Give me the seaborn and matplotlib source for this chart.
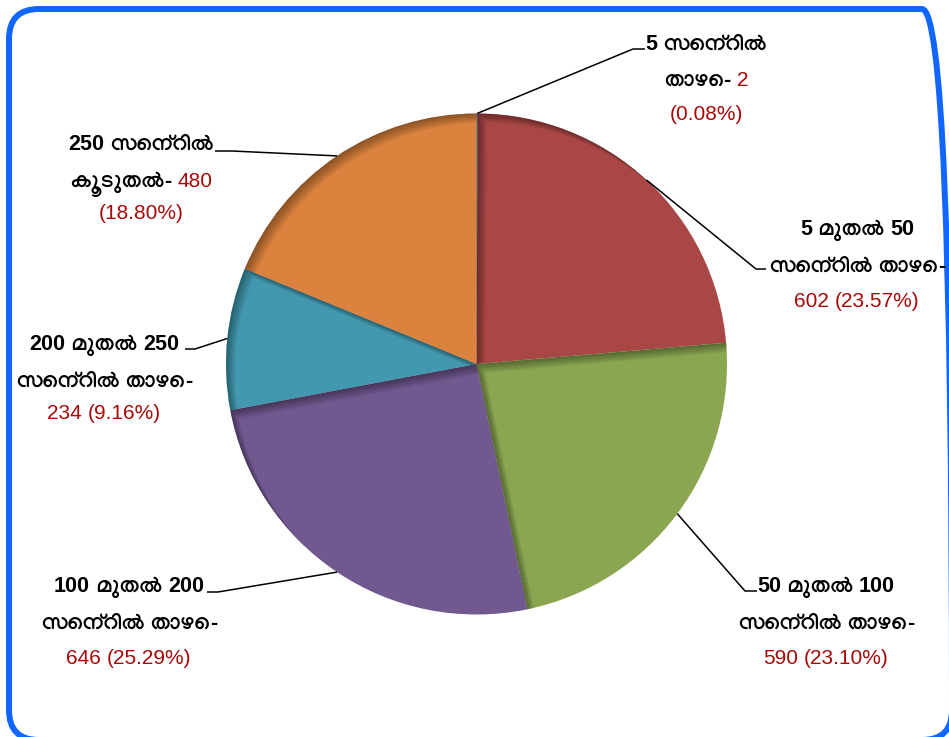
import matplotlib
matplotlib.use("Agg")
import numpy as np
import pandas as pd
import seaborn as sns
import matplotlib.pyplot as plt
from matplotlib.patches import FancyBboxPatch, PathPatch
from matplotlib.path import Path
from matplotlib.font_manager import FontProperties

# ---------------- data ----------------
categories = [
    "5 സെന്റിൽ താഴെ",
    "5 മുതൽ 50 സെന്റിൽ താഴെ",
    "50 മുതൽ 100 സെന്റിൽ താഴെ",
    "100 മുതൽ 200 സെന്റിൽ താഴെ",
    "200 മുതൽ 250 സെന്റിൽ താഴെ",
    "250 സെന്റിൽ കൂടുതൽ",
]
values = [2, 602, 590, 646, 234, 480]
pct_labels = ["0.08%", "23.57%", "23.10%", "25.29%", "9.16%", "18.80%"]
slice_colors = ["#4F81BD", "#A84745", "#8AA651", "#71588F", "#4298AF", "#DA823E"]

# label layout (positions only)
break_words = [2, 3, 3, 3, 3, 2]
value_on_line2 = [True, False, False, False, False, True]
label_x = [706, 857, 826, 129, 104, 141]
label_ys = [[43, 79, 113], [228, 265, 300], [585, 622, 657],
            [585, 622, 657], [343, 380, 412], [143, 180, 212]]
elbows = [[(633, 49), (645, 49)], [(756, 269), (766, 269)], [(745, 591), (757, 591)],
          [(218, 592), (207, 592)], [(195, 349), (185, 349)], [(232, 151), (215, 151)]]

df = pd.DataFrame({"category": categories, "value": values, "pct": pct_labels})

sns.set_theme(style="white")
palette = sns.color_palette(slice_colors)
plt.rcParams["font.family"] = ["Manjari", "Liberation Sans", "DejaVu Sans"]

W, H = 949, 737
fig = plt.figure(figsize=(W / 100, H / 100), dpi=100)
fig.patch.set_facecolor("white")
ax = fig.add_axes([0, 0, 1, 1])

cx, cy, R = 476.5, H - 364, 250.5
wedges, _ = ax.pie(df["value"], colors=palette, startangle=90, counterclock=False,
                   center=(cx, cy), radius=R, frame=True,
                   wedgeprops=dict(linewidth=0, antialiased=True))
ax.set_xlim(0, W)
ax.set_ylim(0, H)
ax.axis("off")


def signed_area(v):
    x, y = v[:, 0], v[:, 1]
    return 0.5 * np.sum(x * np.roll(y, -1) - np.roll(x, -1) * y)


# inner shadow on the upper-left edges of each slice
rect = np.array([[-100, -100], [W + 100, -100], [W + 100, H + 100], [-100, H + 100]], float)
for w in wedges:
    polys = w.get_path().to_polygons()
    if not polys:
        continue
    poly = polys[0]
    if signed_area(poly) > 0:   # rect is CCW, make hole CW
        poly = poly[::-1]
    for k in range(1, 11):
        d = k * 0.9
        hole = poly + np.array([d, -d])
        verts = np.vstack([rect, rect[:1], hole, hole[:1]])
        codes = ([Path.MOVETO] + [Path.LINETO] * 3 + [Path.CLOSEPOLY]
                 + [Path.MOVETO] + [Path.LINETO] * (len(hole) - 1) + [Path.CLOSEPOLY])
        sp = PathPatch(Path(verts, codes), facecolor="black", edgecolor="none",
                       alpha=0.04, zorder=w.get_zorder() + 0.1)
        sp.set_clip_path(w)
        ax.add_patch(sp)

# border
border = FancyBboxPatch((9, H - 740), 943, 731, boxstyle="round,pad=0,rounding_size=30",
                        fill=False, edgecolor="#1166FF", lw=4.3, zorder=10,
                        clip_on=False)
ax.add_patch(border)

# ---------------- labels ----------------
renderer = fig.canvas.get_renderer()
fp_ml = FontProperties(family="Manjari", weight="bold", size=16)
fp_lat_b = FontProperties(family="Liberation Sans", weight="bold", size=15.5)
fp_lat_r = FontProperties(family="Liberation Sans", weight="normal", size=15)
BLACK = "#000000"
RED = "#A80808"
SPACE_W = 6.0


def split_runs(s):
    runs = []
    for ch in s:
        o = ord(ch)
        if ch == " ":
            kind = "sp"
        elif 0x0D00 <= o <= 0x0D7F or o in (0x200C, 0x200D):
            kind = "ml"
        else:
            kind = "lat"
        if runs and runs[-1][1] == kind and kind != "sp":
            runs[-1][0] += ch
        else:
            runs.append([ch, kind])
    return runs


def draw_line(segments, xc, ytop):
    base = H - ytop - 7
    arts, widths = [], []
    for text, color in segments:
        for run, kind in split_runs(text):
            if kind == "sp":
                arts.append(None)
                widths.append(SPACE_W)
                continue
            if kind == "ml":
                fp = fp_ml
            else:
                fp = fp_lat_b if color == BLACK else fp_lat_r
            t = ax.text(0, base, run, fontproperties=fp, color=color,
                        ha="left", va="baseline", zorder=12)
            arts.append(t)
            widths.append(t.get_window_extent(renderer=renderer).width)
    x = xc - sum(widths) / 2
    for a, wdt in zip(arts, widths):
        if a is not None:
            a.set_x(x)
        x += wdt


for i, row in df.iterrows():
    words = row["category"].split(" ")
    n = break_words[i]
    line1 = " ".join(words[:n])
    rest = " ".join(words[n:])
    if value_on_line2[i]:
        lines = [[(line1, BLACK)],
                 [(rest + "- ", BLACK), (str(row["value"]), RED)],
                 [("(" + row["pct"] + ")", RED)]]
    else:
        lines = [[(line1, BLACK)],
                 [(rest + "-", BLACK)],
                 [(f"{row['value']} ({row['pct']})", RED)]]
    for segs, yt in zip(lines, label_ys[i]):
        draw_line(segs, label_x[i], yt)

    # leader line from the slice edge at its mid angle
    w = wedges[i]
    mid = np.deg2rad((w.theta1 + w.theta2) / 2)
    ax_pt = (cx + R * np.cos(mid), cy + R * np.sin(mid))
    (ex, ey), (fx, fy) = elbows[i]
    ax.plot([ax_pt[0], ex, fx], [ax_pt[1], H - ey, H - fy], color="black", lw=1.1,
            zorder=11, solid_capstyle="butt")

fig.savefig("out.png", dpi=100, facecolor="white")
